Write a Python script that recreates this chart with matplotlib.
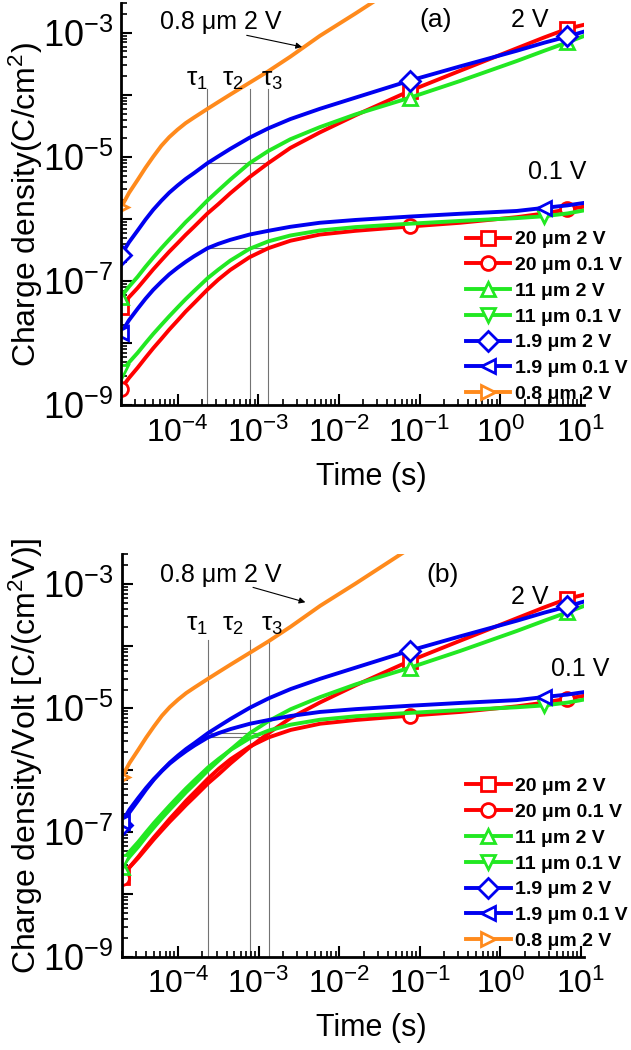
import matplotlib
matplotlib.use("Agg")
import matplotlib.pyplot as plt
import numpy as np
from matplotlib.ticker import LogLocator, FuncFormatter, NullFormatter

plt.rcParams["font.family"] = ["Liberation Sans", "DejaVu Sans"]
plt.rcParams["mathtext.fontset"] = "custom"
plt.rcParams["mathtext.rm"] = "Liberation Sans"
plt.rcParams["mathtext.it"] = "Liberation Sans:italic"
plt.rcParams["mathtext.bf"] = "Liberation Sans:bold"

# 时间采样点 (s)
t = [2.0e-5, 2.5e-5, 3.2e-5, 4.0e-5, 5.0e-5, 6.3e-5, 7.9e-5, 1.0e-4, 1.26e-4, 1.6e-4,
     2.35e-4, 3.2e-4, 4.5e-4, 7.8e-4, 1.33e-3, 2.5e-3, 5.8e-3, 1.6e-2, 7.6e-2, 0.32,
     1.6, 3.5, 6.8, 11.0]

# log10 电荷密度 (C/cm^2), 从图 (a) 读出
lq_20um_2v = [-7.42, -7.26, -7.11, -6.96, -6.81, -6.665, -6.525, -6.39, -6.255, -6.125,
              -5.91, -5.76, -5.585, -5.325, -5.10, -4.855, -4.605, -4.33, -3.935, -3.61,
              -3.25, -3.075, -2.935, -2.87]
lq_20um_01v = [-8.73, -8.56, -8.395, -8.235, -8.08, -7.93, -7.78, -7.635, -7.49, -7.355,
               -7.135, -6.975, -6.82, -6.615, -6.47, -6.35, -6.25, -6.19, -6.12, -6.06,
               -5.97, -5.91, -5.845, -5.80]
lq_11um_2v = [-7.25, -7.09, -6.93, -6.77, -6.62, -6.47, -6.33, -6.19, -6.05, -5.92,
              -5.70, -5.54, -5.365, -5.10, -4.905, -4.715, -4.52, -4.315, -4.045, -3.775,
              -3.455, -3.29, -3.155, -3.05]
lq_11um_01v = [-8.47, -8.31, -8.155, -8.00, -7.85, -7.705, -7.565, -7.425, -7.29, -7.16,
               -6.955, -6.815, -6.67, -6.48, -6.36, -6.265, -6.185, -6.13, -6.075, -6.03,
               -5.985, -5.955, -5.91, -5.86]
lq_19um_2v = [-6.58, -6.375, -6.185, -6.01, -5.85, -5.705, -5.575, -5.46, -5.355, -5.26,
              -5.10, -4.99, -4.87, -4.69, -4.54, -4.39, -4.225, -4.045, -3.77, -3.54,
              -3.29, -3.16, -3.06, -2.98]
lq_19um_01v = [-7.84, -7.63, -7.445, -7.285, -7.14, -7.01, -6.89, -6.785, -6.69, -6.60,
               -6.47, -6.40, -6.335, -6.25, -6.19, -6.125, -6.06, -6.015, -5.96, -5.915,
               -5.87, -5.82, -5.78, -5.74]
lq_08um_2v = [-5.81, -5.58, -5.37, -5.175, -4.995, -4.82, -4.68, -4.56, -4.455, -4.365,
              -4.225, -4.115, -3.995, -3.805, -3.62, -3.385, -3.05, -2.69, -2.12]

labels = ["20 μm 2 V", "20 μm 0.1 V", "11 μm 2 V", "11 μm 0.1 V",
          "1.9 μm 2 V", "1.9 μm 0.1 V", "0.8 μm 2 V"]
volts = [2, 0.1, 2, 0.1, 2, 0.1, 2]
series = [lq_20um_2v, lq_20um_01v, lq_11um_2v, lq_11um_01v,
          lq_19um_2v, lq_19um_01v, lq_08um_2v]
colors = ["#ff0000", "#ff0000", "#22e822", "#22e822", "#0000f0", "#0000f0", "#ff8a1c"]
markers = ["s", "o", "^", "v", "D", "<", ">"]
mark_idx = [[0, 18, 22], [0, 18, 22], [0, 18, 22], [0, 21], [0, 18, 22], [0, 21], [0]]

# 坐标轴主刻度
x_major = [1e-4, 1e-3, 1e-2, 1e-1, 1e0, 1e1]
y_major = [1e-9, 1e-8, 1e-7, 1e-6, 1e-5, 1e-4, 1e-3]

# τ 时间和参考线
taus = [2.35e-4, 7.8e-4, 1.33e-3]
tau_label_x = [1.73e-4, 4.8e-4, 1.48e-3]
tau_line_top = 10 ** -3.9
q_ref = [7.9e-6, 3.4e-7]      # 2 V / 0.1 V 参考电荷
v_ref = [2, 0.1]


def fmt_y(v, pos):
    e = int(round(np.log10(v)))
    return r"$10^{%d}$" % e if e % 2 == 1 else ""


def fmt_x(v, pos):
    e = int(round(np.log10(v)))
    return r"$10^{%d}$" % e


def draw_panel(ax, per_volt, tag, ylabel, text_pos, leg_anchor):
    for lq, v, c, m, idx, lab in zip(series, volts, colors, markers, mark_idx, labels):
        q = 10 ** np.array(lq)
        if per_volt:
            q = q / v
        ax.plot(t[:len(q)], q, color=c, lw=2.8, marker=m, markevery=idx,
                ms=10, mfc="white", mec=c, mew=2, label=lab)

    # τ 竖线和横线
    for tau in taus:
        ax.plot([tau, tau], [1e-9, tau_line_top], color="0.45", lw=0.8, zorder=1)
    for qr, vr in zip(q_ref, v_ref):
        qv = qr / vr if per_volt else qr
        ax.plot([taus[0], taus[2]], [qv, qv], color="0.45", lw=0.8, zorder=1)

    xt = ax.get_xaxis_transform()
    for i, xl in enumerate(tau_label_x):
        ax.text(xl, text_pos["tau"], r"τ$_{%d}$" % (i + 1), transform=xt,
                ha="center", va="center", fontsize=19)

    ax.text(*text_pos["orange"], "0.8 μm 2 V", transform=xt, ha="center", va="center",
            fontsize=18)
    ax.annotate("", xy=text_pos["arrow_head"], xytext=text_pos["arrow_tail"],
                xycoords=xt, textcoords=xt,
                arrowprops=dict(arrowstyle="-|>", lw=0.8, color="k", mutation_scale=9,
                                shrinkA=0, shrinkB=0))
    ax.text(*text_pos["tag"], tag, transform=xt, ha="center", va="center", fontsize=19)
    ax.text(*text_pos["2v"], "2 V", transform=xt, ha="center", va="center", fontsize=18)
    ax.text(*text_pos["01v"], "0.1 V", transform=xt, ha="center", va="center", fontsize=18)

    ax.set_xscale("log")
    ax.set_yscale("log")
    ax.set_xlim(2e-5, 11)
    ax.set_ylim(1e-9, 3e-3)

    ax.set_xticks(x_major)
    ax.set_yticks(y_major)
    ax.xaxis.set_minor_locator(LogLocator(base=10, subs=np.arange(2, 10), numticks=20))
    ax.yaxis.set_minor_locator(LogLocator(base=10, subs=np.arange(2, 10), numticks=20))
    ax.xaxis.set_major_formatter(FuncFormatter(fmt_x))
    ax.yaxis.set_major_formatter(FuncFormatter(fmt_y))
    ax.xaxis.set_minor_formatter(NullFormatter())
    ax.yaxis.set_minor_formatter(NullFormatter())

    ax.spines["top"].set_visible(False)
    ax.spines["right"].set_visible(False)
    ax.spines["left"].set_linewidth(2)
    ax.spines["bottom"].set_linewidth(2)
    ax.tick_params(which="both", direction="in", top=False, right=False)
    ax.tick_params(which="major", length=8, width=1.5)
    ax.tick_params(which="minor", length=4, width=1.2)
    ax.tick_params(axis="x", labelsize=23, pad=9)
    ax.tick_params(axis="y", labelsize=26, pad=6)

    ax.set_xlabel("Time (s)", fontsize=22)
    ax.set_ylabel(ylabel, fontsize=23)
    ax.xaxis.set_label_coords(0.54, -0.14)
    ax.yaxis.set_label_coords(-0.165, 0.5)

    ax.legend(loc="upper left", bbox_to_anchor=leg_anchor, frameon=False,
              borderpad=0, borderaxespad=0, handlelength=2.3, handletextpad=0.25,
              labelspacing=0.42, numpoints=1, prop={"weight": "bold", "size": 14})


fig = plt.figure(figsize=(6.31, 10.5), dpi=100)
ax_a = fig.add_axes([0.192, 0.614, 0.734, 0.383])
ax_b = fig.add_axes([0.193, 0.089, 0.733, 0.383])

pos_a = {"tau": 0.81, "orange": (3.4e-4, 0.953), "arrow_head": (3.5e-3, 0.891),
         "arrow_tail": (7.2e-4, 0.92), "tag": (0.16, 0.958), "2v": (2.3, 0.958),
         "01v": (5.1, 0.58)}
pos_b = {"tau": 0.825, "orange": (3.4e-4, 0.948), "arrow_head": (3.8e-3, 0.881),
         "arrow_tail": (8.5e-4, 0.918), "tag": (0.19, 0.95), "2v": (2.3, 0.893),
         "01v": (9.8, 0.714)}

draw_panel(ax_a, False, "(a)", "Charge density(C/cm$^2$)", pos_a, (0.744, 0.434))
draw_panel(ax_b, True, "(b)", "Charge density/Volt [C/(cm$^2$V)]", pos_b, (0.744, 0.445))

fig.savefig("out.png", dpi=100)
